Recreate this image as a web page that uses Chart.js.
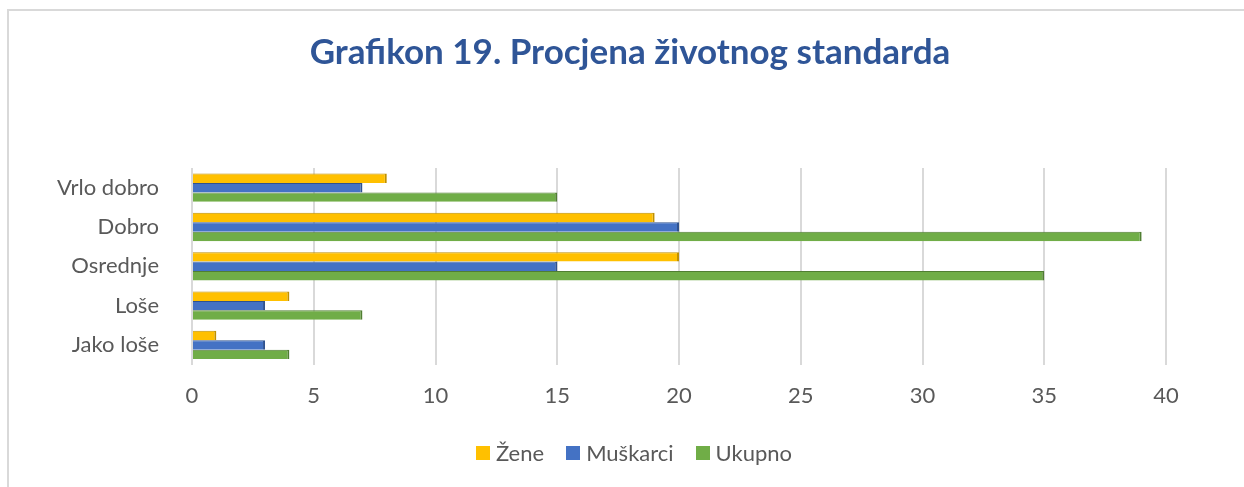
<!DOCTYPE html>
<html>
<head>
<meta charset="utf-8">
<script src="https://cdn.jsdelivr.net/npm/chart.js@4.4.1/dist/chart.umd.min.js"></script>
<style>
  html, body { margin: 0; padding: 0; background: #fff; overflow: hidden; }
  .frame {
    position: absolute; left: 7px; top: 9px; width: 1250px; height: 490px;
    border-top: 2px solid #d9d9d9; border-left: 2px solid #d9d9d9;
  }
  #chart { position: absolute; left: 0; top: 0; }
  .legend {
    position: absolute; left: 0; top: 439px; width: 1268px;
    display: flex; justify-content: center; gap: 22px;
    font-family: Lato, "Open Sans", sans-serif; font-size: 22px; color: #595959;
    line-height: 28px;
  }
  .legend span.item { display: flex; align-items: center; }
  .legend i { display: inline-block; width: 14px; height: 14px; margin-right: 6px; }
</style>
</head>
<body>
<div class="frame"></div>
<canvas id="chart" width="1244" height="487"></canvas>
<div class="legend" id="legend"></div>
<script>
// data
const categories = ['Vrlo dobro', 'Dobro', 'Osrednje', 'Loše', 'Jako loše'];
const zene = [8, 19, 20, 4, 1];
const muskarci = [7, 20, 15, 3, 3];
const ukupno = [15, 39, 35, 7, 4];
const titleText = 'Grafikon 19. Procjena životnog standarda';

const FONT = 'Lato, "Open Sans", sans-serif';

function series(label, data, fill, edge) {
  return {
    label: label,
    data: data,
    backgroundColor: fill,
    borderColor: edge,
    borderWidth: { top: 1, right: 2, bottom: 0, left: 0 },
    borderSkipped: false,
    categoryPercentage: 0.72,
    barPercentage: 1.0
  };
}

// title drawn by hand so it sits centred on the whole frame, not the plot
const frameTitle = {
  id: 'frameTitle',
  afterDraw(chart) {
    const ctx = chart.ctx;
    ctx.save();
    ctx.font = 'bold 35px ' + FONT;
    ctx.fillStyle = '#2f5597';
    ctx.textAlign = 'center';
    ctx.textBaseline = 'middle';
    ctx.fillText(titleText, 630, 53);
    ctx.restore();
  }
};

const chart = new Chart(document.getElementById('chart'), {
  type: 'bar',
  data: {
    labels: categories,
    datasets: [
      series('Žene', zene, '#ffc000', '#bf9000'),
      series('Muškarci', muskarci, '#4472c4', '#2f528f'),
      series('Ukupno', ukupno, '#70ad47', '#507e32')
    ]
  },
  options: {
    indexAxis: 'y',
    responsive: false,
    animation: false,
    layout: { padding: { left: 50, right: 78, top: 168, bottom: 60 } },
    scales: {
      x: {
        min: 0, max: 40,
        ticks: { stepSize: 5, color: '#595959', font: { family: FONT, size: 22 }, padding: 18 },
        grid: { color: '#d9d9d9', lineWidth: 2, drawTicks: false },
        border: { display: false }
      },
      y: {
        ticks: { color: '#595959', font: { family: FONT, size: 22 }, padding: 25 },
        grid: { display: false },
        border: { display: false },
        afterFit: (scale) => { scale.width = 142; }
      }
    },
    plugins: {
      title: { display: false },
      legend: { display: false },
      tooltip: { enabled: false }
    }
  },
  plugins: [frameTitle]
});

// legend built from the chart's datasets, centred under the frame like the original
const legendEl = document.getElementById('legend');
chart.data.datasets.forEach(ds => {
  const item = document.createElement('span');
  item.className = 'item';
  const box = document.createElement('i');
  box.style.background = ds.backgroundColor;
  item.appendChild(box);
  item.appendChild(document.createTextNode(ds.label));
  legendEl.appendChild(item);
});
</script>
</body>
</html>
